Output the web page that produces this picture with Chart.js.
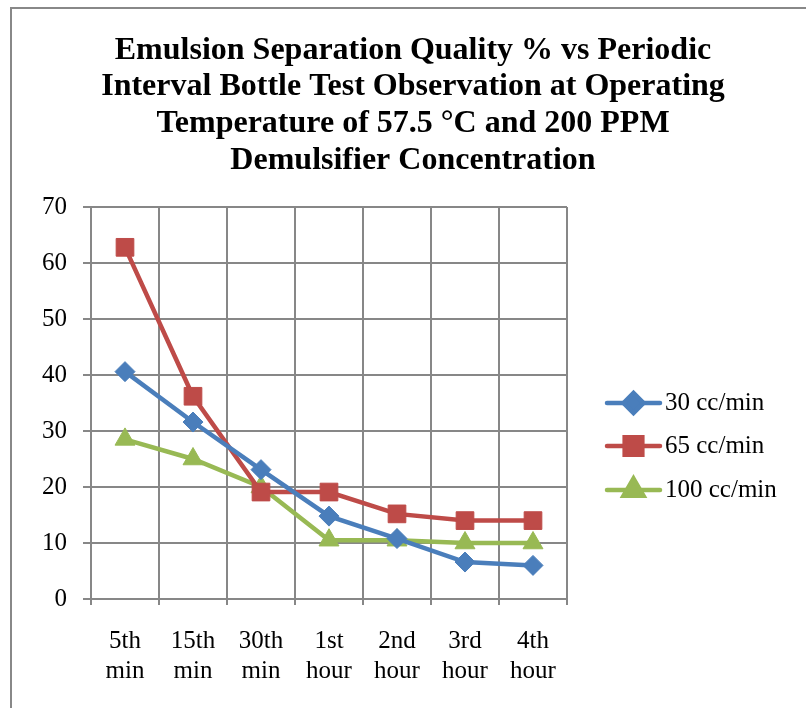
<!DOCTYPE html>
<html>
<head>
<meta charset="utf-8">
<title>Emulsion Separation Quality</title>
<script src="https://cdn.jsdelivr.net/npm/chart.js@4.4.1/dist/chart.umd.min.js"></script>
<style>
  html, body { margin: 0; padding: 0; background: #ffffff; }
  #wrap { width: 806px; height: 708px; }
</style>
</head>
<body>
<div id="wrap"><canvas id="c" width="806" height="708"></canvas></div>
<script>
// Observation intervals (x categories)
const intervals = [["5th", "min"], ["15th", "min"], ["30th", "min"], ["1st", "hour"], ["2nd", "hour"], ["3rd", "hour"], ["4th", "hour"]];

// Separation quality % per flow rate
const seriesNames = ["30 cc/min", "65 cc/min", "100 cc/min"];
const flow30 = [40.6, 31.6, 23.1, 14.8, 10.8, 6.6, 6.0];
const flow65 = [62.8, 36.2, 19.1, 19.1, 15.2, 14.0, 14.0];
const flow100 = [28.5, 25.0, 20.0, 10.5, 10.5, 10.0, 10.0];

const yTicks = [0, 10, 20, 30, 40, 50, 60, 70];

const titleLines = [
  "Emulsion Separation Quality % vs Periodic",
  "Interval Bottle Test Observation at Operating",
  "Temperature of 57.5 \u00B0C and 200 PPM",
  "Demulsifier Concentration"
];

const SERIF = "'Liberation Serif', 'Times New Roman', serif";
const GRID = "#878787";

// Outer chart frame
const framePlugin = {
  id: "frame",
  beforeDraw(chart) {
    const ctx = chart.ctx;
    ctx.save();
    ctx.fillStyle = "#ffffff";
    ctx.fillRect(0, 0, chart.width, chart.height);
    ctx.strokeStyle = "#888888";
    ctx.lineWidth = 2;
    ctx.beginPath();
    ctx.moveTo(11, chart.height + 2);
    ctx.lineTo(11, 8);
    ctx.lineTo(chart.width + 2, 8);
    ctx.stroke();
    ctx.restore();
  }
};

// Legend on the right: line sample with marker, then series name
const sideLegend = {
  id: "sideLegend",
  afterDraw(chart) {
    const ctx = chart.ctx;
    const x0 = 607, x1 = 660, tx = 665;
    const ys = [403, 446, 490];
    ctx.save();
    chart.data.datasets.forEach((ds, i) => {
      const y = ys[i];
      ctx.strokeStyle = ds.borderColor;
      ctx.lineWidth = ds.borderWidth;
      ctx.lineCap = "round";
      ctx.beginPath();
      ctx.moveTo(x0, y);
      ctx.lineTo(x1, y);
      ctx.stroke();
      ctx.fillStyle = ds.pointBackgroundColor;
      ctx.strokeStyle = ds.pointBorderColor;
      Chart.helpers.drawPoint(ctx, {
        pointStyle: ds.pointStyle,
        radius: ds.pointRadius,
        rotation: 0,
        borderWidth: 1
      }, (x0 + x1) / 2, y);
      ctx.fillStyle = "#000000";
      ctx.font = "25px " + SERIF;
      ctx.textBaseline = "middle";
      ctx.textAlign = "left";
      ctx.fillText(ds.label, tx, y);
    });
    ctx.restore();
  }
};

function series(label, data, color, style, radius) {
  return {
    label: label,
    data: data,
    borderColor: color,
    backgroundColor: color,
    borderWidth: 4.5,
    pointStyle: style,
    pointRadius: radius,
    pointHoverRadius: radius,
    pointBackgroundColor: color,
    pointBorderColor: color,
    pointBorderWidth: 1,
    tension: 0
  };
}

new Chart(document.getElementById("c"), {
  type: "line",
  data: {
    labels: intervals,
    datasets: [
      series(seriesNames[0], flow30, "#4A7EBB", "rectRot", 10),
      series(seriesNames[1], flow65, "#BE4B48", "rect", 12.5),
      series(seriesNames[2], flow100, "#98B954", "triangle", 11.5)
    ]
  },
  options: {
    responsive: false,
    animation: false,
    devicePixelRatio: 1,
    layout: { padding: { top: 0, left: 20, right: 0, bottom: 0 } },
    plugins: {
      legend: { display: false },
      tooltip: { enabled: false },
      title: {
        display: true,
        text: titleLines,
        color: "#000000",
        font: { family: SERIF, size: 32, weight: "bold", lineHeight: 1.15 },
        padding: { top: 32, bottom: 27.8 }
      }
    },
    scales: {
      x: {
        type: "category",
        offset: true,
        grid: { offset: true, color: GRID, lineWidth: 2, tickLength: 6, drawTicks: true },
        border: { color: GRID, width: 2 },
        ticks: {
          color: "#000000",
          font: { family: SERIF, size: 25, lineHeight: 1.22 },
          padding: 21,
          maxRotation: 0,
          autoSkip: false
        },
        afterFit(scale) { scale.height = 109; }
      },
      y: {
        min: 0,
        max: 70,
        afterBuildTicks(scale) { scale.ticks = yTicks.map(v => ({ value: v })); },
        grid: { color: GRID, lineWidth: 2, tickLength: 8 },
        border: { color: GRID, width: 2 },
        ticks: {
          color: "#000000",
          font: { family: SERIF, size: 25 },
          padding: 16
        },
        afterFit(scale) { scale.width = 71; }
      },
      // empty right-hand band that leaves room for the legend
      legendSpace: {
        type: "linear",
        position: "right",
        display: true,
        grid: { display: false, drawTicks: false },
        border: { display: false },
        ticks: { display: false },
        afterFit(scale) { scale.width = 239; }
      }
    }
  },
  plugins: [framePlugin, sideLegend]
});
</script>
</body>
</html>
